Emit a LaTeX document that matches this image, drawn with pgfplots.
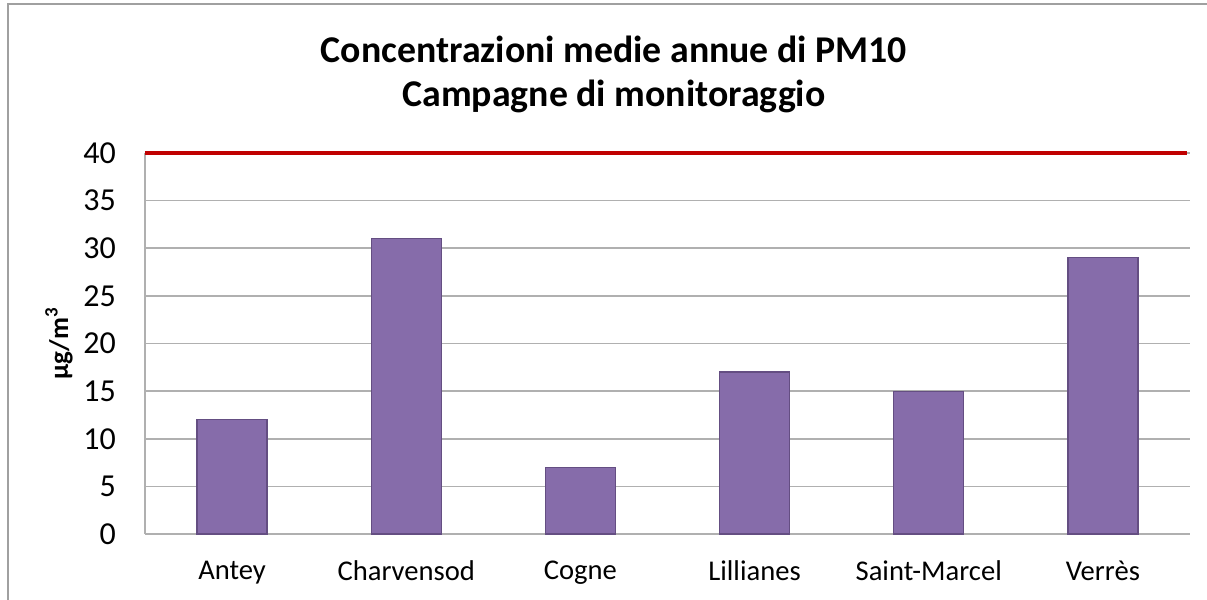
\documentclass[border=0pt]{standalone}
\usepackage{fontspec}
\setmainfont{Carlito}
\usepackage{pgfplots}
\pgfplotsset{compat=1.18}
\definecolor{barfill}{RGB}{134,108,170}
\definecolor{baredge}{RGB}{100,78,130}
\definecolor{gridc}{RGB}{176,176,176}
\definecolor{limitc}{RGB}{192,0,0}
\begin{document}
\begin{tikzpicture}[x=1pt,y=1pt]
\useasboundingbox (0,0) rectangle (603.5,300);
\draw[color={rgb,255:red,160;green,160;blue,160},line width=0.8pt] (4,-10) -- (4,298) -- (620,298);
\node[font=\bfseries\fontsize{18.9}{22}\selectfont] at (307,275.5) {Concentrazioni medie annue di PM10};
\node[font=\bfseries\fontsize{18.9}{22}\selectfont] at (307,252) {Campagne di monitoraggio};
\begin{axis}[
  at={(72.5pt,33pt)}, anchor=south west,
  scale only axis, width=522.5pt, height=190.5pt,
  xmin=-0.5, xmax=5.5, ymin=0, ymax=40,
  xtick={0,1,2,3,4,5},
  xticklabels={Antey,Charvensod,Cogne,Lillianes,Saint-Marcel,Verrès},
  ytick={0,5,...,40},
  /pgf/number format/assume math mode=true,
  yticklabel style={font=\fontsize{16}{18}\selectfont, xshift=-11pt},
  xticklabel style={font=\fontsize{14.3}{16}\selectfont, yshift=-10pt},
  major tick length=0pt,
  axis line style={gridc, line width=0.8pt},
  axis x line*=bottom, axis y line*=left,
  ymajorgrids, grid style={gridc, line width=0.8pt},
  ylabel={\bfseries µg/m\textsuperscript{3}},
  ylabel style={font=\fontsize{13.5}{16}\selectfont, at={(axis description cs:0,0.5)}, anchor=center, yshift=43pt},
  clip=false,
]
\addplot[ybar, bar width=35pt, fill=barfill, draw=baredge, line width=0.6pt] coordinates {(0,12) (1,31) (2,7) (3,17) (4,15) (5,29)};
\addplot[sharp plot, limitc, line width=1.6pt, mark=none] coordinates {(-0.5,40) (5.48,40)};
\end{axis}
\end{tikzpicture}
\end{document}
